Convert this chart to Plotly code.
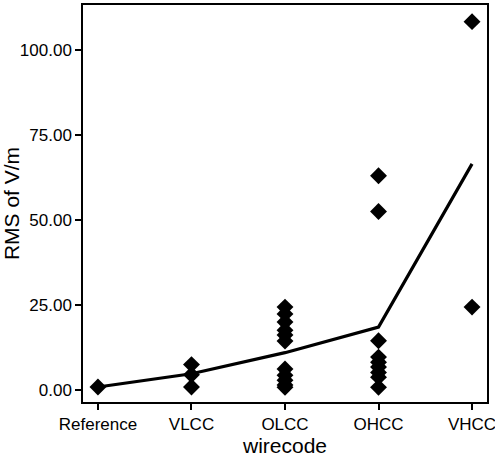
import plotly.graph_objects as go

categories = ["Reference", "VLCC", "OLCC", "OHCC", "VHCC"]

ref_vals = [0.9]
vlcc_vals = [7.5, 4.5, 0.9]
olcc_vals = [24.4, 22.4, 20.0, 17.6, 16.2, 14.4, 6.2, 4.4, 2.9, 1.5, 0.8]
ohcc_vals = [63.0, 52.5, 14.5, 9.7, 8.2, 6.8, 5.2, 3.8, 0.8]
vhcc_vals = [108.3, 24.4]

# group means (line)
mean_vals = [0.9, 4.8, 11.0, 18.5, 66.5]

groups = [ref_vals, vlcc_vals, olcc_vals, ohcc_vals, vhcc_vals]
xs, ys = [], []
for i, g in enumerate(groups):
    xs += [i] * len(g)
    ys += g

y_ticks = [0, 25, 50, 75, 100]

fig = go.Figure()
fig.add_trace(go.Scatter(
    x=list(range(len(categories))), y=mean_vals, mode="lines",
    line=dict(color="black", width=3.2), hoverinfo="skip", showlegend=False))
fig.add_trace(go.Scatter(
    x=xs, y=ys, mode="markers",
    marker=dict(symbol="diamond", size=13, color="black"),
    showlegend=False))

font = "Liberation Sans, Arial, sans-serif"
fig.update_layout(
    width=495, height=460,
    margin=dict(l=83, r=8, t=5, b=58, autoexpand=False),
    plot_bgcolor="white", paper_bgcolor="white",
    font=dict(family=font, color="black", size=17),
)
fig.update_xaxes(
    range=[-0.16, 4.16], automargin=False, ticklabeloverflow="allow",
    tickmode="array", tickvals=list(range(len(categories))), ticktext=categories,
    ticks="outside", ticklen=6, tickwidth=2, tickcolor="black",
    showline=True, linecolor="black", linewidth=1.5, mirror=True,
    showgrid=False, zeroline=False,
    title=dict(text="wirecode", font=dict(size=21), standoff=2),
    tickfont=dict(size=17),
)
fig.update_yaxes(
    range=[-3.5, 113.2], automargin=False,
    tickmode="array", tickvals=y_ticks, ticktext=[f"{v:.2f}" for v in y_ticks],
    ticks="outside", ticklen=6, tickwidth=2, tickcolor="black",
    showline=True, linecolor="black", linewidth=1.5, mirror=True,
    showgrid=False, zeroline=False,
    title=dict(text="RMS of V/m", font=dict(size=21), standoff=3),
    tickfont=dict(size=17),
)
fig.write_html("out.html", config={"displayModeBar": False},
               post_script="document.body.style.margin='0';")
